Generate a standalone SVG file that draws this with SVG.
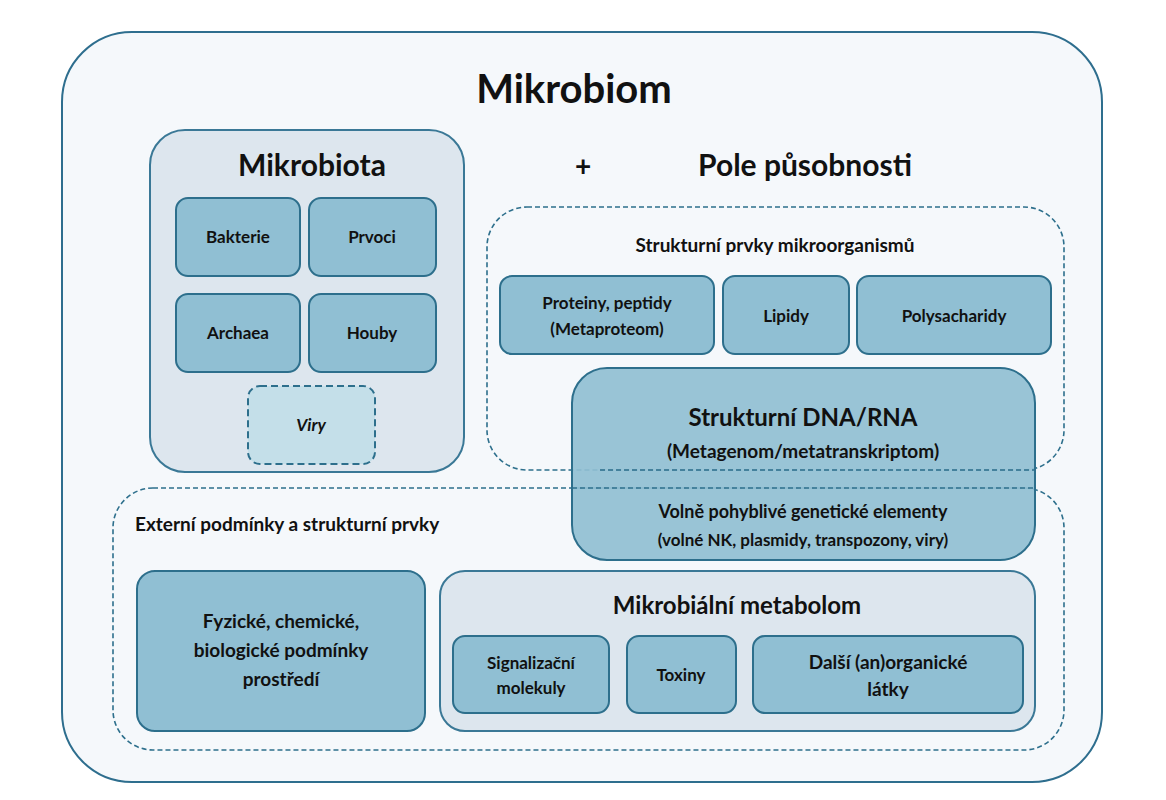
<svg xmlns="http://www.w3.org/2000/svg" width="1166" height="800" viewBox="0 0 1166 800">
<style>
text{font-family:Lato,"Open Sans","Liberation Sans",sans-serif;font-weight:bold;fill:#111;text-anchor:middle}
.panel{fill:#dde6ee;stroke:#3a7896;stroke-width:2}
.box{fill:#90bfd3;stroke:#2d6f8c;stroke-width:2}
.dash{fill:none;stroke:#2d6f8c;stroke-width:1.6;stroke-dasharray:5 3}
.t17{font-size:17px}.t19{font-size:19px}
</style>
<rect width="1166" height="800" fill="#fff"/>
<g id="outer"><rect x="62" y="32" width="1040" height="750" rx="70" fill="#f5f8fb" stroke="#2e6e8e" stroke-width="2"/>
<text x="574" y="103" font-size="40">Mikrobiom</text></g>
<g id="mikrobiota"><rect class="panel" x="150" y="130" width="314" height="342" rx="35"/>
<text x="312" y="176" font-size="30">Mikrobiota</text></g>
<g id="bakterie"><rect class="box" x="176" y="198" width="124" height="78" rx="12"/><text class="t17" x="238" y="243">Bakterie</text></g>
<g id="prvoci"><rect class="box" x="309" y="198" width="127" height="78" rx="12"/><text class="t17" x="372" y="243">Prvoci</text></g>
<g id="archaea"><rect class="box" x="176" y="294" width="124" height="78" rx="12"/><text class="t17" x="238" y="339">Archaea</text></g>
<g id="houby"><rect class="box" x="309" y="294" width="127" height="78" rx="12"/><text class="t17" x="372" y="339">Houby</text></g>
<g id="viry"><rect x="248" y="386" width="127" height="78" rx="12" fill="#c4dfe9" stroke="#2d6f8c" stroke-width="2" stroke-dasharray="7 4"/><text class="t17" x="311" y="431" font-style="italic">Viry</text></g>
<g id="pole"><text x="583" y="176" font-size="28">+</text><text x="805" y="176" font-size="30">Pole působnosti</text></g>
<g id="struktura"><rect class="dash" x="487" y="207" width="577" height="263" rx="40"/>
<text x="775" y="252" font-size="19">Strukturní prvky mikroorganismů</text></g>
<g id="proteiny"><rect class="box" x="500" y="276" width="214" height="78" rx="12"/><text class="t17" x="607" y="309">Proteiny, peptidy</text><text class="t17" x="607" y="335">(Metaproteom)</text></g>
<g id="lipidy"><rect class="box" x="723" y="276" width="126" height="78" rx="12"/><text class="t17" x="786" y="322">Lipidy</text></g>
<g id="polysacharidy"><rect class="box" x="857" y="276" width="194" height="78" rx="12"/><text class="t17" x="954" y="322">Polysacharidy</text></g>
<g id="externi"><rect class="dash" x="113" y="488" width="951" height="262" rx="40"/>
<text x="135" y="531" font-size="19" text-anchor="start" style="text-anchor:start">Externí podmínky a strukturní prvky</text></g>
<g id="dna"><rect x="572" y="368" width="463" height="192" rx="35" fill="#90bfd3" fill-opacity="0.92" stroke="#2d6f8c" stroke-width="2"/>
<line class="dash" x1="600" y1="470" x2="1035" y2="470"/><line class="dash" x1="572" y1="488" x2="1035" y2="488"/>
<text x="803" y="426" font-size="24">Strukturní DNA/RNA</text>
<text x="803" y="458" font-size="19">(Metagenom/metatranskriptom)</text>
<text x="803" y="518" font-size="18">Volně pohyblivé genetické elementy</text>
<text x="803" y="546" font-size="17">(volné NK, plasmidy, transpozony, viry)</text></g>
<g id="fyzicke"><rect class="box" x="137" y="571" width="288" height="160" rx="18"/>
<text class="t19" x="281" y="628">Fyzické, chemické,</text><text class="t19" x="281" y="657">biologické podmínky</text><text class="t19" x="281" y="686">prostředí</text></g>
<g id="metabolom"><rect class="panel" x="440" y="571" width="595" height="160" rx="25"/>
<text x="737" y="614" font-size="24">Mikrobiální metabolom</text></g>
<g id="signal"><rect class="box" x="453" y="636" width="156" height="77" rx="12"/><text class="t17" x="531" y="669">Signalizační</text><text class="t17" x="531" y="694">molekuly</text></g>
<g id="toxiny"><rect class="box" x="627" y="636" width="109" height="77" rx="12"/><text class="t17" x="681" y="681">Toxiny</text></g>
<g id="dalsi"><rect class="box" x="753" y="636" width="270" height="77" rx="12"/><text class="t19" x="888" y="669">Další (an)organické</text><text class="t19" x="888" y="696">látky</text></g>
<g id="connectors"/>
</svg>
